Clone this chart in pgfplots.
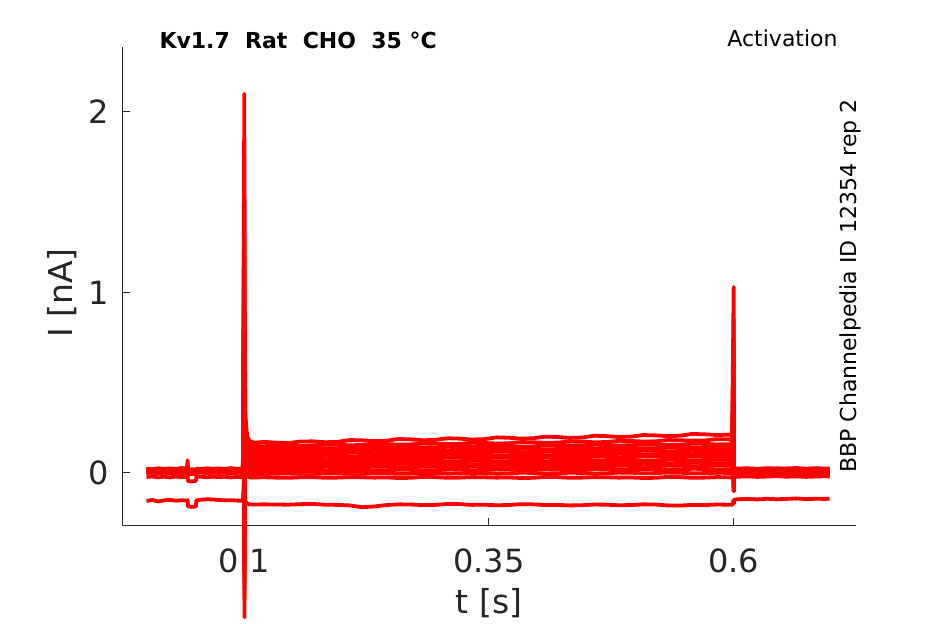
\documentclass[border=0pt]{standalone}
\usepackage{pgfplots}
\pgfplotsset{compat=1.18}
\usepackage{pgfplotstable}
\usepackage{fontspec}
\setmainfont{DejaVu Sans}
\definecolor{axgray}{HTML}{262626}

\pgfplotstableread{
t c1 c2 c3 c4 c5 c6 c7 c8 c9 c10 c11 c12 c13 b
0 -0.022 0.000 0.004 0.008 0.012 0.016 0.020 0.006 0.010 0.014 0.018 0.002 0.024 -0.155
0.006 -0.020 0.003 0.001 0.010 0.009 0.019 0.017 0.008 0.013 0.011 0.021 0.005 0.020 -0.150
0.012 -0.024 -0.002 0.006 0.006 0.014 0.013 0.022 0.004 0.008 0.016 0.015 0.000 0.026 -0.158
0.018 -0.021 0.001 0.003 0.011 0.010 0.017 0.018 0.009 0.011 0.012 0.020 0.004 0.022 -0.152
0.024 -0.025 -0.001 0.005 0.007 0.013 0.015 0.021 0.005 0.012 0.015 0.017 0.001 0.025 -0.149
0.03 -0.020 0.002 0.002 0.009 0.011 0.018 0.019 0.007 0.009 0.013 0.019 0.003 0.023 -0.154
0.036 -0.023 0.000 0.004 0.008 0.012 0.016 0.020 0.006 0.010 0.014 0.018 0.002 0.027 -0.151
0.0415 -0.022 0.001 0.003 0.009 0.011 0.017 0.019 0.007 0.011 0.013 0.019 0.003 0.024 -0.153
0.042 -0.010 0.010 0.015 0.020 0.025 0.030 0.035 0.020 0.030 0.040 0.050 0.030 0.070 -0.150
0.0425 -0.045 -0.006 -0.002 0.004 0.008 0.012 0.014 0.002 0.006 0.010 0.014 0.000 0.018 -0.185
0.046 -0.047 -0.005 -0.003 0.005 0.007 0.011 0.016 0.003 0.006 0.011 0.015 0.000 0.020 -0.188
0.0505 -0.044 -0.006 -0.001 0.004 0.009 0.012 0.015 0.002 0.008 0.010 0.014 -0.002 0.019 -0.186
0.051 -0.022 0.001 0.004 0.008 0.012 0.016 0.020 0.006 0.010 0.014 0.018 0.002 0.024 -0.152
0.056 -0.021 0.003 0.002 0.010 0.010 0.018 0.018 0.008 0.012 0.012 0.020 0.004 0.021 -0.148
0.062 -0.024 -0.001 0.006 0.007 0.014 0.014 0.022 0.005 0.009 0.016 0.016 0.001 0.026 -0.146
0.068 -0.020 0.002 0.003 0.011 0.011 0.017 0.019 0.009 0.013 0.013 0.021 0.003 0.023 -0.147
0.074 -0.023 0.000 0.005 0.008 0.013 0.015 0.021 0.006 0.010 0.015 0.017 0.000 0.025 -0.150
0.08 -0.021 0.002 0.002 0.010 0.010 0.018 0.018 0.008 0.012 0.012 0.020 0.004 0.022 -0.152
0.086 -0.025 -0.002 0.006 0.006 0.014 0.014 0.022 0.004 0.008 0.016 0.016 0.002 0.027 -0.151
0.092 -0.022 0.001 0.003 0.009 0.011 0.017 0.019 0.007 0.011 0.013 0.019 0.003 0.023 -0.153
0.0985 -0.023 0.000 0.004 0.008 0.012 0.016 0.020 0.006 0.010 0.014 0.018 0.002 0.024 -0.155
0.1 0.05 0.10 0.20 0.30 0.40 0.50 0.60 0.80 1.00 1.20 1.50 1.75 2.10 0.00
0.1002 -0.30 -0.30 -0.35 -0.40 -0.40 -0.45 -0.50 -0.50 -0.55 -0.60 -0.65 -0.70 -0.80 -0.40
0.1005 0.05 0.10 0.15 0.20 0.25 0.30 0.35 0.40 0.45 0.55 0.65 0.75 0.90 -0.10
0.101 -0.01 0.02 0.04 0.06 0.08 0.10 0.12 0.14 0.16 0.19 0.22 0.26 0.32 -0.16
0.103 -0.02 0.00 0.02 0.04 0.05 0.06 0.08 0.09 0.11 0.13 0.15 0.17 0.20 -0.17
0.106 -0.025 -0.005 0.012 0.03 0.045 0.06 0.075 0.09 0.105 0.12 0.137 0.155 0.175 -0.175
0.11 -0.025 -0.006 0.012 0.029 0.045 0.059 0.075 0.089 0.104 0.119 0.134 0.149 0.167 -0.175
0.12 -0.024 -0.006 0.014 0.028 0.047 0.058 0.077 0.088 0.107 0.118 0.137 0.148 0.172 -0.174
0.1325 -0.026 -0.004 0.012 0.031 0.045 0.061 0.075 0.092 0.105 0.122 0.135 0.152 0.168 -0.175
0.145 -0.027 -0.003 0.011 0.032 0.044 0.062 0.074 0.093 0.104 0.123 0.134 0.154 0.166 -0.176
0.1575 -0.024 -0.006 0.014 0.029 0.047 0.059 0.077 0.089 0.108 0.119 0.138 0.150 0.174 -0.173
0.17 -0.023 -0.005 0.015 0.030 0.048 0.060 0.078 0.090 0.109 0.120 0.139 0.152 0.175 -0.172
0.1825 -0.027 -0.003 0.012 0.034 0.045 0.064 0.075 0.095 0.105 0.126 0.136 0.158 0.170 -0.176
0.195 -0.026 -0.002 0.013 0.033 0.046 0.063 0.076 0.094 0.106 0.125 0.137 0.157 0.172 -0.177
0.2075 -0.023 -0.006 0.017 0.030 0.050 0.060 0.081 0.091 0.112 0.121 0.142 0.153 0.182 -0.180
0.22 -0.024 -0.005 0.016 0.031 0.049 0.061 0.080 0.092 0.111 0.122 0.141 0.155 0.181 -0.190
0.2325 -0.026 -0.001 0.013 0.035 0.046 0.065 0.077 0.097 0.108 0.128 0.139 0.161 0.176 -0.186
0.245 -0.025 -0.002 0.014 0.034 0.047 0.064 0.078 0.096 0.109 0.127 0.140 0.160 0.178 -0.178
0.2575 -0.028 -0.005 0.018 0.031 0.051 0.061 0.083 0.093 0.114 0.124 0.144 0.157 0.188 -0.174
0.27 -0.027 -0.004 0.017 0.032 0.050 0.062 0.082 0.094 0.113 0.125 0.143 0.158 0.186 -0.175
0.2825 -0.022 0.000 0.014 0.036 0.047 0.067 0.079 0.099 0.110 0.130 0.141 0.164 0.181 -0.178
0.295 -0.023 -0.001 0.015 0.035 0.048 0.066 0.080 0.098 0.111 0.129 0.142 0.163 0.183 -0.177
0.3075 -0.027 -0.004 0.019 0.032 0.052 0.063 0.085 0.095 0.116 0.126 0.147 0.160 0.192 -0.172
0.32 -0.026 -0.003 0.018 0.033 0.051 0.064 0.084 0.096 0.115 0.127 0.146 0.161 0.190 -0.173
0.3325 -0.023 0.000 0.015 0.037 0.048 0.068 0.081 0.100 0.112 0.132 0.144 0.167 0.185 -0.177
0.345 -0.024 -0.001 0.016 0.036 0.049 0.067 0.082 0.099 0.113 0.131 0.145 0.166 0.187 -0.176
0.3575 -0.026 -0.004 0.020 0.033 0.053 0.064 0.086 0.096 0.118 0.129 0.150 0.163 0.197 -0.179
0.37 -0.025 -0.003 0.019 0.034 0.052 0.065 0.085 0.097 0.117 0.130 0.149 0.164 0.195 -0.178
0.3825 -0.028 0.001 0.016 0.038 0.049 0.069 0.082 0.102 0.114 0.134 0.146 0.171 0.190 -0.173
0.395 -0.027 0.000 0.017 0.037 0.050 0.068 0.083 0.101 0.115 0.133 0.147 0.170 0.192 -0.174
0.4075 -0.022 -0.003 0.021 0.034 0.054 0.065 0.088 0.098 0.120 0.131 0.153 0.167 0.201 -0.178
0.42 -0.023 -0.002 0.020 0.035 0.053 0.066 0.087 0.099 0.119 0.132 0.152 0.168 0.199 -0.177
0.4325 -0.027 0.001 0.016 0.039 0.050 0.070 0.084 0.104 0.116 0.137 0.149 0.174 0.194 -0.180
0.445 -0.026 0.000 0.017 0.038 0.051 0.069 0.085 0.103 0.117 0.136 0.150 0.173 0.196 -0.179
0.4575 -0.023 -0.003 0.022 0.035 0.055 0.067 0.090 0.100 0.122 0.133 0.156 0.170 0.206 -0.175
0.47 -0.024 -0.002 0.021 0.036 0.054 0.068 0.089 0.101 0.121 0.134 0.155 0.171 0.204 -0.176
0.4825 -0.026 0.002 0.017 0.040 0.051 0.071 0.086 0.106 0.118 0.139 0.152 0.178 0.199 -0.179
0.495 -0.025 0.001 0.018 0.039 0.052 0.070 0.087 0.105 0.119 0.138 0.153 0.177 0.201 -0.178
0.5075 -0.028 -0.002 0.022 0.036 0.056 0.068 0.092 0.102 0.124 0.136 0.159 0.174 0.210 -0.174
0.52 -0.027 -0.001 0.021 0.037 0.055 0.069 0.091 0.103 0.123 0.137 0.158 0.175 0.208 -0.175
0.5325 -0.022 0.002 0.018 0.041 0.052 0.073 0.088 0.108 0.120 0.142 0.155 0.182 0.204 -0.180
0.545 -0.023 0.001 0.019 0.040 0.053 0.072 0.089 0.107 0.121 0.141 0.156 0.181 0.206 -0.181
0.5575 -0.027 -0.002 0.023 0.037 0.057 0.070 0.093 0.104 0.127 0.138 0.162 0.179 0.216 -0.177
0.57 -0.026 -0.001 0.022 0.038 0.056 0.071 0.092 0.105 0.126 0.139 0.161 0.180 0.214 -0.178
0.5825 -0.023 0.001 0.019 0.042 0.053 0.074 0.089 0.109 0.123 0.144 0.158 0.187 0.210 -0.175
0.595 -0.024 0.000 0.020 0.041 0.054 0.073 0.090 0.108 0.124 0.143 0.159 0.186 0.212 -0.176
0.5985 -0.025 0.000 0.020 0.040 0.055 0.072 0.091 0.107 0.125 0.142 0.160 0.184 0.214 -0.177
0.6 0.02 0.05 0.10 0.15 0.20 0.25 0.30 0.40 0.45 0.55 0.70 0.85 1.03 -0.15
0.6002 -0.06 -0.06 -0.07 -0.07 -0.08 -0.08 -0.08 -0.09 -0.09 -0.10 -0.10 -0.10 -0.10 -0.17
0.6006 -0.018 -0.010 -0.004 0.002 0.007 0.012 0.017 0.022 0.027 -0.013 0.014 0.005 0.025 -0.148
0.604 -0.021 -0.013 -0.007 -0.001 0.004 0.009 0.014 0.019 0.024 -0.016 0.011 0.002 0.021 -0.146
0.614 -0.019 -0.011 -0.005 0.002 0.006 0.011 0.016 0.022 0.026 -0.014 0.013 0.004 0.024 -0.144
0.624 -0.022 -0.012 -0.007 0.000 0.004 0.009 0.014 0.019 0.023 -0.017 0.010 0.001 0.020 -0.147
0.634 -0.020 -0.010 -0.004 0.001 0.006 0.012 0.016 0.021 0.026 -0.014 0.013 0.004 0.023 -0.143
0.644 -0.018 -0.013 -0.006 -0.001 0.003 0.010 0.015 0.020 0.024 -0.016 0.011 0.002 0.025 -0.146
0.654 -0.021 -0.011 -0.005 0.002 0.005 0.011 0.017 0.018 0.025 -0.013 0.012 0.003 0.021 -0.144
0.664 -0.019 -0.012 -0.007 0.000 0.007 0.009 0.014 0.021 0.027 -0.015 0.010 0.005 0.024 -0.141
0.674 -0.022 -0.010 -0.004 0.001 0.004 0.012 0.016 0.019 0.023 -0.017 0.013 0.002 0.022 -0.145
0.684 -0.020 -0.013 -0.006 -0.001 0.006 0.010 0.015 0.022 0.026 -0.014 0.011 0.004 0.025 -0.143
0.694 -0.018 -0.011 -0.005 0.002 0.005 0.011 0.017 0.020 0.024 -0.016 0.012 0.003 0.021 -0.144
0.698 -0.021 -0.012 -0.006 0.000 0.006 0.010 0.014 0.021 0.025 -0.015 0.013 0.002 0.023 -0.142
}\sweeps

\begin{document}
\begin{tikzpicture}
\useasboundingbox (0,0) rectangle (472.5pt,312pt);
\begin{axis}[
  at={(61pt,49pt)}, anchor=south west,
  scale only axis, width=367pt, height=239.5pt,
  xmin=-0.025, xmax=0.725, ymin=-0.294, ymax=2.36,
  clip=false,
  axis x line*=bottom, axis y line*=left,
  axis line style={axgray, line width=0.5pt},
  tick align=inside, major tick length=4pt,
  tick style={axgray, line width=0.5pt},
  xtick={0.1,0.35,0.6}, xticklabels={0.1,0.35,0.6},
  ytick={0,1,2},
  /pgf/number format/assume math mode=true,
  ticklabel style={font=\fontsize{16}{19}\selectfont, text=axgray},
  xticklabel style={yshift=-8pt},
  yticklabel style={xshift=-3pt},
  xlabel={t [s]}, ylabel={I [nA]},
  label style={font=\fontsize{16.5}{20}\selectfont, text=axgray},
  xlabel style={at={(axis description cs:0.5,-0.161)}, anchor=center},
  ylabel style={at={(axis description cs:-0.0817,0.486)}, anchor=center},
]
\pgfplotsinvokeforeach{c1,c2,c3,c4,c5,c6,c7,c8,c9,c10,c11,c12,c13,b}{
  \addplot[red, line width=1.9pt, line join=round] table[x=t, y=#1] {\sweeps};
}
\node[font=\bfseries\fontsize{11}{13}\selectfont, anchor=center] at (axis description cs:0.24,1.0146) {Kv1.7\ \ Rat\ \ CHO\ \ 35 °C};
\node[font=\fontsize{11}{13}\selectfont, anchor=east, inner sep=0pt] at (axis description cs:0.9755,1.019) {Activation};
\node[font=\fontsize{11}{13}\selectfont, rotate=90, anchor=center] at (axis description cs:0.992,0.501) {BBP Channelpedia ID 12354 rep 2};
\end{axis}
\end{tikzpicture}
\end{document}
